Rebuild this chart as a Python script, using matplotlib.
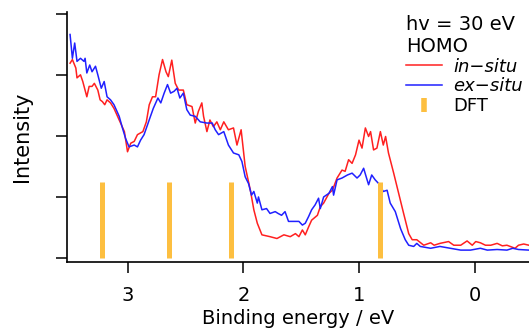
import matplotlib.pyplot as plt
from matplotlib.lines import Line2D

plt.rcParams['font.family'] = ['DejaVu Sans']

# Espectro in-situ: energía de enlace (eV) e intensidad (u. arb.)
e_in = [3.50, 3.48, 3.45, 3.44, 3.41, 3.39, 3.355, 3.335, 3.31, 3.29,
        3.26, 3.24, 3.22, 3.20, 3.18, 3.15, 3.12, 3.075, 3.03, 3.003,
        2.975, 2.945, 2.917, 2.87, 2.84, 2.815, 2.787, 2.76, 2.73, 2.70,
        2.67, 2.65, 2.62, 2.59, 2.56, 2.52, 2.49, 2.445, 2.417, 2.39,
        2.36, 2.345, 2.316, 2.29, 2.26, 2.23, 2.20, 2.17, 2.13, 2.086,
        2.056, 2.02, 1.985, 1.94, 1.91, 1.88, 1.84, 1.77, 1.71, 1.65,
        1.595, 1.55, 1.52, 1.49, 1.465, 1.436, 1.41, 1.36, 1.335, 1.306,
        1.26, 1.23, 1.19, 1.147, 1.12, 1.09, 1.06, 1.03, 1.00, 0.974,
        0.945, 0.917, 0.90, 0.874, 0.845, 0.815, 0.79, 0.77, 0.745, 0.70,
        0.657, 0.614, 0.57, 0.54, 0.50, 0.44, 0.38, 0.35, 0.30, 0.225,
        0.18, 0.12, 0.065, 0.02, -0.01, -0.05, -0.094, -0.14, -0.195, -0.24,
        -0.28, -0.35, -0.38, -0.425, -0.47]
i_in = [3.19, 3.25, 3.11, 2.95, 3.00, 2.89, 2.64, 2.81, 2.81, 2.86,
        2.75, 2.59, 2.56, 2.51, 2.59, 2.54, 2.45, 2.26, 2.07, 1.74,
        1.88, 1.91, 2.02, 2.07, 2.23, 2.51, 2.64, 2.64, 3.00, 3.25,
        3.05, 2.97, 3.24, 2.86, 2.75, 2.75, 2.51, 2.48, 2.21, 2.40,
        2.54, 2.32, 2.07, 2.26, 2.15, 2.23, 2.10, 2.23, 2.10, 2.13,
        1.85, 2.10, 1.50, 1.11, 0.79, 0.57, 0.38, 0.35, 0.32, 0.38,
        0.35, 0.40, 0.35, 0.46, 0.38, 0.51, 0.62, 0.70, 0.84, 0.90,
        1.06, 1.11, 1.31, 1.44, 1.42, 1.61, 1.55, 1.69, 1.93, 1.80,
        2.13, 1.99, 2.07, 1.77, 1.80, 2.07, 1.85, 1.99, 1.72, 1.39,
        1.06, 0.73, 0.40, 0.30, 0.30, 0.21, 0.25, 0.21, 0.24, 0.27,
        0.21, 0.21, 0.28, 0.21, 0.27, 0.25, 0.21, 0.21, 0.24, 0.20,
        0.21, 0.16, 0.21, 0.23, 0.21]

# Espectro ex-situ
e_ex = [3.50, 3.48, 3.46, 3.44, 3.41, 3.38, 3.37, 3.355, 3.33, 3.31,
        3.28, 3.26, 3.23, 3.205, 3.18, 3.15, 3.12, 3.075, 3.047, 3.02,
        2.99, 2.945, 2.917, 2.89, 2.86, 2.83, 2.81, 2.78, 2.74, 2.715,
        2.686, 2.657, 2.63, 2.60, 2.575, 2.55, 2.52, 2.49, 2.46, 2.417,
        2.374, 2.316, 2.27, 2.244, 2.215, 2.17, 2.13, 2.086, 2.04, 2.013,
        1.985, 1.956, 1.93, 1.91, 1.88, 1.87, 1.84, 1.80, 1.77, 1.725,
        1.70, 1.67, 1.64, 1.61, 1.57, 1.52, 1.49, 1.465, 1.436, 1.41,
        1.38, 1.35, 1.335, 1.306, 1.26, 1.23, 1.22, 1.19, 1.147, 1.10,
        1.06, 1.017, 0.99, 0.96, 0.93, 0.917, 0.89, 0.86, 0.83, 0.79,
        0.757, 0.73, 0.686, 0.64, 0.60, 0.57, 0.527, 0.50, 0.47, 0.38,
        0.30, 0.21, 0.12, 0.035, -0.05, -0.11, -0.195, -0.28, -0.33, -0.38,
        -0.47]
i_ex = [3.66, 3.27, 3.52, 3.22, 3.27, 3.22, 3.27, 3.03, 3.16, 3.05,
        3.14, 3.00, 2.78, 2.89, 2.64, 2.59, 2.51, 2.32, 2.13, 1.96,
        1.82, 1.85, 1.82, 1.93, 2.02, 2.18, 2.29, 2.45, 2.62, 2.54,
        2.70, 2.84, 2.70, 2.73, 2.78, 2.62, 2.70, 2.43, 2.34, 2.32,
        2.23, 2.21, 2.21, 2.10, 2.02, 2.07, 1.85, 1.72, 1.69, 1.58,
        1.33, 1.22, 1.03, 1.09, 0.90, 1.00, 0.79, 0.81, 0.73, 0.76,
        0.73, 0.70, 0.76, 0.60, 0.60, 0.60, 0.54, 0.57, 0.68, 0.79,
        0.87, 0.98, 0.81, 1.00, 1.06, 1.17, 1.03, 1.28, 1.31, 1.36,
        1.39, 1.31, 1.36, 1.47, 1.28, 1.20, 1.36, 1.28, 1.22, 1.09,
        1.11, 0.90, 0.76, 0.48, 0.30, 0.21, 0.19, 0.24, 0.19, 0.16,
        0.19, 0.16, 0.13, 0.13, 0.16, 0.13, 0.14, 0.13, 0.16, 0.14,
        0.13]

# Posiciones DFT (eV) y su altura
dft_energia = [3.22, 2.64, 2.11, 0.82]
dft_altura = 1.25

rojo = '#ff2020'
azul = '#2020ff'
naranja = '#fdbf40'

fig = plt.figure(figsize=(5.29, 3.30), dpi=100)
ax = fig.add_axes([0.127, 0.206, 0.875, 0.758])

ax.plot(e_in, i_in, color=rojo, lw=1.1)
ax.plot(e_ex, i_ex, color=azul, lw=1.1)
ax.vlines(dft_energia, 0, dft_altura, color=naranja, lw=3.6)

ax.set_xlim(3.525, -0.48)
ax.set_ylim(-0.065, 4.03)
ax.set_xticks([3, 2, 1, 0])
ax.set_yticks([0, 1, 2, 3, 4])
ax.set_yticklabels([])
ax.spines['top'].set_visible(False)
ax.spines['right'].set_visible(False)
for s in ['left', 'bottom']:
    ax.spines[s].set_linewidth(1.2)
ax.tick_params(length=8, width=1.1, labelsize=14, pad=9)

ax.set_xlabel('Binding energy / eV', fontsize=14, labelpad=3)
ax.set_ylabel('Intensity', fontsize=15, labelpad=8)

# Leyenda
handles = [Line2D([], [], color=rojo, lw=1.1),
           Line2D([], [], color=azul, lw=1.1),
           Line2D([], [], color=naranja, marker='|', ms=10, mew=4, ls='none')]
leg = fig.legend(handles, ['in−situ', 'ex−situ', 'DFT'], loc='upper left',
                 bbox_to_anchor=(0.768, 0.955), frameon=False, fontsize=13,
                 title='hv = 30 eV\nHOMO', title_fontsize=14, alignment='left',
                 handlelength=2.0, handletextpad=0.6, labelspacing=0.1,
                 borderpad=0, borderaxespad=0)
for t in leg.get_texts()[:2]:
    t.set_fontstyle('italic')

fig.savefig('out.png', dpi=100)
